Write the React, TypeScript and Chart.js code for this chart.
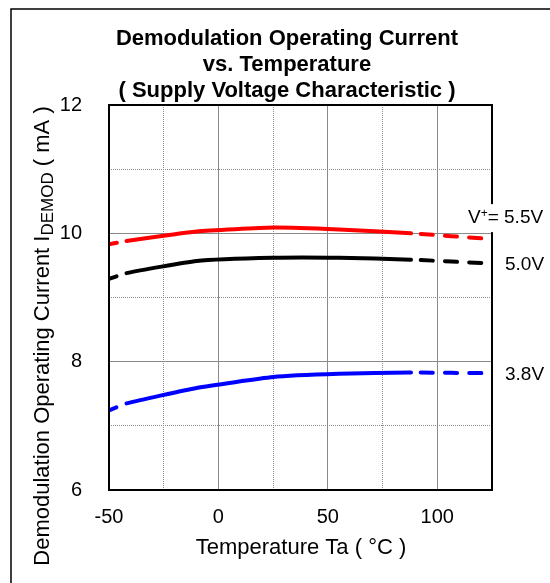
import React, { useEffect, useRef } from 'react';
import { Chart, registerables } from 'chart.js';

Chart.register(...registerables);

const temps = [-50, -42, -10, 25, 55, 88, 125];
const v55 = [9.83, 9.88, 10.03, 10.09, 10.06, 10.0, 9.91];
const v50 = [9.29, 9.38, 9.57, 9.62, 9.62, 9.59, 9.53];
const v38 = [7.24, 7.35, 7.59, 7.76, 7.81, 7.83, 7.82];
const seriesColors = ['#ff0000', '#000000', '#0000ff'];
const xTickLabels = [-50, 0, 50, 100];
const yTickLabels = [6, 8, 10, 12];
const titleLines = ['Demodulation Operating Current', 'vs. Temperature', '( Supply Voltage Characteristic )'];
const xTitle = 'Temperature Ta ( °C )';
const FONT = '"Liberation Sans", Arial, sans-serif';

const mkSeries = (vals: number[], color: string) => ({
  data: temps.map((t, i) => ({ x: t, y: vals[i] })),
  borderColor: color,
  backgroundColor: color,
  borderWidth: 4,
  borderCapStyle: 'round' as const,
  borderJoinStyle: 'round' as const,
  pointRadius: 0,
  tension: 0.15,
  segment: {
    borderDash: (ctx: any) => (ctx.p0.parsed.x <= -45 || ctx.p0.parsed.x >= 85 ? [12, 12] : []),
    borderDashOffset: (ctx: any) => (ctx.p0.parsed.x <= -45 ? 4 : ctx.p0.parsed.x >= 85 ? 14 : 0),
  },
});

const decor = {
  id: 'decor',
  afterDraw(chart: any) {
    const ctx = chart.ctx;
    const a = chart.chartArea;
    const ys = chart.scales.y;
    ctx.save();
    // outer frame
    ctx.strokeStyle = '#000';
    ctx.lineWidth = 1.5;
    ctx.beginPath();
    ctx.moveTo(11, 583);
    ctx.lineTo(11, 9);
    ctx.lineTo(550, 9);
    ctx.stroke();
    // plot border
    ctx.lineWidth = 2;
    ctx.strokeRect(a.left, a.top, a.right - a.left, a.bottom - a.top);
    // title
    ctx.fillStyle = '#000';
    ctx.font = 'bold 22px ' + FONT;
    ctx.textAlign = 'center';
    ctx.textBaseline = 'middle';
    titleLines.forEach((l, i) => ctx.fillText(l, 287, 39 + i * 26));
    // x title
    ctx.font = '22px ' + FONT;
    ctx.fillText(xTitle, 301, 548);
    // y title with subscript
    ctx.save();
    ctx.translate(43, 336);
    ctx.rotate(-Math.PI / 2);
    ctx.textAlign = 'left';
    const mainFont = '22px ' + FONT;
    const subFont = '17px ' + FONT;
    const p1 = 'Demodulation Operating Current I';
    const p2 = 'DEMOD';
    const p3 = ' ( mA )';
    ctx.font = mainFont;
    const w1 = ctx.measureText(p1).width;
    const w3 = ctx.measureText(p3).width;
    ctx.font = subFont;
    const w2 = ctx.measureText(p2).width;
    let x = -(w1 + w2 + w3) / 2;
    ctx.font = mainFont;
    ctx.fillText(p1, x, 0);
    x += w1;
    ctx.font = subFont;
    ctx.fillText(p2, x, 5);
    x += w2;
    ctx.font = mainFont;
    ctx.fillText(p3, x, 0);
    ctx.restore();
    // right labels
    ctx.textAlign = 'left';
    ctx.textBaseline = 'middle';
    const y55 = ys.getPixelForValue(v55[v55.length - 1]) - 21;
    ctx.fillStyle = '#fff';
    ctx.fillRect(a.right - 28, y55 - 14, 90, 28);
    ctx.fillStyle = '#000';
    ctx.font = '19px ' + FONT;
    let lx = 468;
    ctx.fillText('V', lx, y55);
    lx += ctx.measureText('V').width;
    ctx.font = '12px ' + FONT;
    ctx.fillText('+', lx, y55 - 4);
    lx += ctx.measureText('+').width;
    ctx.font = '19px ' + FONT;
    ctx.fillText('= 5.5V', lx, y55);
    ctx.fillText('5.0V', 505, ys.getPixelForValue(v50[v50.length - 1]) + 1);
    ctx.fillText('3.8V', 505, ys.getPixelForValue(v38[v38.length - 1]) + 2);
    ctx.restore();
  },
};

export default function App() {
  const ref = useRef<HTMLCanvasElement>(null);
  useEffect(() => {
    if (!ref.current) return;
    const chart = new Chart(ref.current, {
      type: 'line',
      data: {
        datasets: [mkSeries(v55, seriesColors[0]), mkSeries(v50, seriesColors[1]), mkSeries(v38, seriesColors[2])],
      },
      options: {
        responsive: false,
        animation: false,
        events: [],
        layout: { padding: { left: 0, top: 105, right: 58, bottom: 0 } },
        plugins: { legend: { display: false }, tooltip: { enabled: false }, title: { display: false } },
        scales: {
          x: {
            type: 'linear',
            min: -50,
            max: 125,
            afterFit: (s: any) => { s.height = 93; },
            ticks: {
              stepSize: 25,
              autoSkip: false,
              maxRotation: 0,
              padding: 15,
              color: '#000',
              font: { family: FONT, size: 20 },
              callback: (v: any) => (xTickLabels.includes(v) ? String(v) : ''),
            },
            grid: {
              drawTicks: false,
              color: '#8a8a8a',
              lineWidth: 1,
            },
            border: {
              display: false,
              dash: (ctx: any) => (ctx.tick && ctx.tick.value % 50 !== 0 ? [1, 1] : []),
            },
          },
          y: {
            type: 'linear',
            min: 6,
            max: 12,
            afterFit: (s: any) => { s.width = 109; },
            ticks: {
              stepSize: 1,
              autoSkip: false,
              padding: 27,
              color: '#000',
              font: { family: FONT, size: 20 },
              callback: (v: any) => (yTickLabels.includes(v) ? String(v) : ''),
            },
            grid: {
              drawTicks: false,
              color: '#8a8a8a',
              lineWidth: 1,
            },
            border: {
              display: false,
              dash: (ctx: any) => (ctx.tick && ctx.tick.value % 2 !== 0 ? [1, 1] : []),
            },
          },
        },
      },
      plugins: [decor],
    });
    return () => chart.destroy();
  }, []);
  return (
    <div style={{ position: 'absolute', left: 0, top: 0, width: 550, height: 583, background: '#fff' }}>
      <canvas ref={ref} width={550} height={583} style={{ display: 'block' }} />
    </div>
  );
}
